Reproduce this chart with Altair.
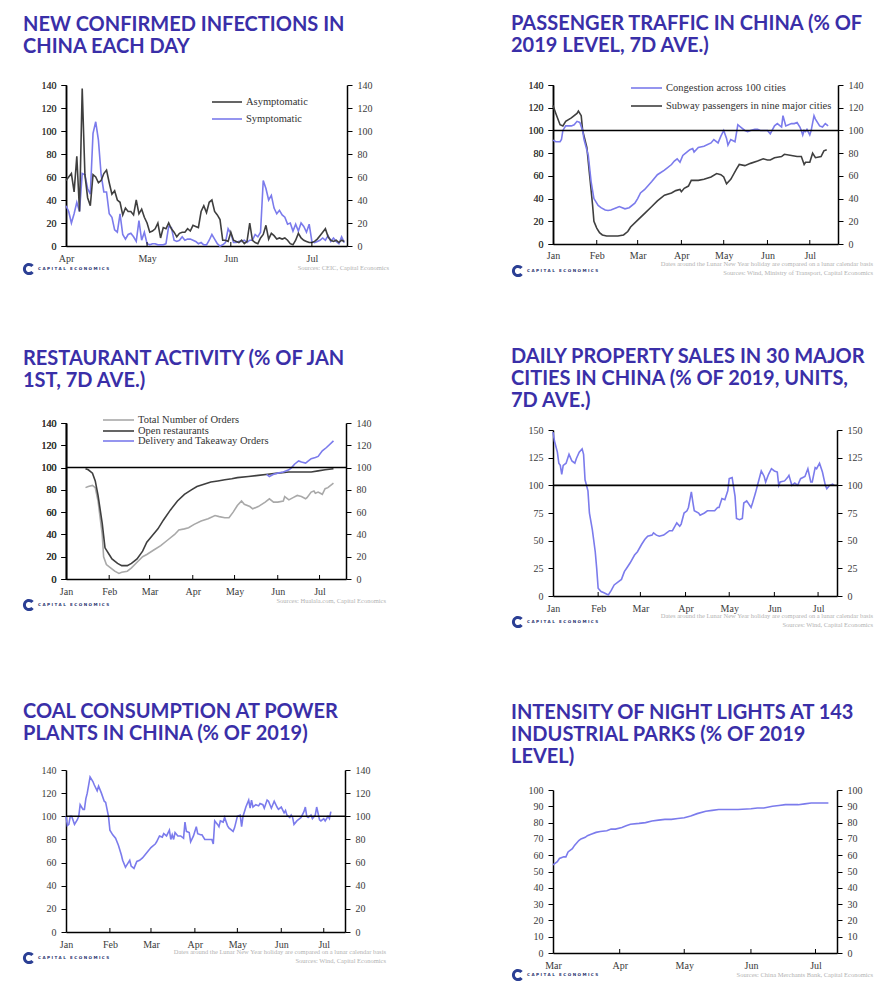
import altair as alt
import pandas as pd

YEAR = 2020
AXF = "Liberation Serif"
AXC = "#3a3a3a"
BLUE = "#7b7bec"
DARK = "#3f3f3f"
LGRAY = "#a9a9a9"
TITLE_C = "#3a2fa8"
LOGO_C = "#2b3f94"
SRC_C = "#b2b2b2"

# ---------------- Panel 1: new confirmed infections (daily from 1 Apr) ----------------
P1_TITLE = ["NEW CONFIRMED INFECTIONS IN", "CHINA EACH DAY"]
P1_NAMES = ["Asymptomatic", "Symptomatic"]
P1_ASYM = [57, 60, 63, 47, 78, 30, 137, 62, 42, 35,
           62, 60, 55, 57, 63, 66, 55, 45, 48, 40,
           38, 27, 33, 30, 30, 27, 40, 28, 32, 25,
           20, 12, 13, 15, 20, 7, 16, 15, 20, 15,
           12, 8, 11, 12, 12, 15, 13, 18, 17, 16,
           30, 35, 29, 38, 40, 30, 27, 23, 5, 5,
           4, 12, 5, 4, 3, 5, 2, 4, 20, 5,
           3, 2, 7, 10, 18, 6, 11, 9, 6, 7,
           6, 7, 5, 2, 1, 5, 11, 7, 5, 4,
           3, 3, 4, 6, 9, 12, 15, 8, 5, 4,
           5, 3, 5, 4]
P1_SYM = [35, 30, 20, 28, 38, 30, 63, 62, 50, 45,
          98, 108, 92, 62, 47, 47, 28, 25, 14, 12,
          28, 10, 6, 10, 11, 8, 4, 22, 5, 12,
          2, 1, 2, 2, 1, 1, 1, 2, 17, 16,
          5, 4, 5, 8, 5, 6, 6, 5, 4, 2,
          3, 1, 1, 5, 10, 6, 2, 0, 1, 3,
          15, 11, 3, 3, 4, 4, 5, 3, 5, 5,
          10, 8, 12, 57, 50, 40, 44, 33, 28, 31,
          27, 25, 19, 20, 13, 19, 13, 20, 17, 12,
          19, 4, 3, 4, 5, 7, 5, 9, 4, 7,
          4, 2, 8, 3]
P1_DAYS = list(range(len(P1_ASYM)))

# ---------------- Panel 2: passenger traffic (days from 1 Jan) ----------------
P2_TITLE = ["PASSENGER TRAFFIC IN CHINA (% OF", "2019 LEVEL, 7D AVE.)"]
P2_NAMES = ["Congestion across 100 cities", "Subway passengers in nine major cities"]
P2_CONG_DAYS = [0, 2, 5, 6, 7, 9, 13, 15, 17, 19, 21, 22, 25, 27, 29, 32, 34, 37, 39, 41,
                45, 47, 51, 54, 58, 60, 62, 65, 70, 74, 79, 84, 86, 88, 90, 92, 94, 97, 99, 100,
                103, 107, 112, 114, 117, 119, 121, 123, 124, 126, 129, 131, 133, 136, 138, 140, 143, 145, 147, 150,
                152, 154, 157, 159, 162, 163, 165, 169, 171, 173, 175, 176, 177, 178, 179, 180, 182, 183, 185, 186,
                189, 191, 193, 195]
P2_CONG = [91.5, 90, 90, 92, 100, 104, 104, 105, 108, 107, 100, 92, 78, 55, 40, 34, 32, 30, 29.5, 30,
           32, 33, 31, 32, 36, 40, 45, 48, 55, 61, 65, 70, 73, 75, 72, 78, 80, 83, 84, 81,
           85, 86, 89, 92, 89, 95, 100, 93, 87, 92, 90, 105, 103, 100, 99, 100, 101, 101, 100, 100,
           100, 97, 104, 106, 103, 113, 104, 106, 106, 107, 103, 100, 96, 100, 99, 101, 96, 100, 113, 110,
           104, 103, 106, 104]
P2_SUB_DAYS = [0, 2, 5, 7, 9, 13, 17, 18, 20, 21, 24, 26, 28, 29, 31, 33, 35, 38, 41, 46,
               50, 53, 55, 60, 65, 70, 74, 79, 84, 87, 90, 91, 93, 96, 98, 103, 107, 112, 116, 119,
               121, 123, 126, 130, 132, 136, 140, 145, 149, 152, 154, 157, 162, 164, 169, 173, 176, 178, 179, 182,
               184, 186, 190, 192, 194]
P2_SUB = [122, 115, 105, 104, 108, 111, 115, 117, 113, 100, 85, 60, 35, 20, 14, 10, 8, 7, 7, 7,
          8, 11, 15, 21, 27, 33, 38, 43, 45, 47, 48, 46, 49, 51, 56, 56, 57, 59, 62, 61,
          59, 53, 57, 66, 70, 69, 71, 73, 75, 74, 74, 76, 77, 79, 78, 77, 77, 70, 72, 72,
          80, 76, 77, 82, 83]

# ---------------- Panel 3: restaurant activity ----------------
P3_TITLE = ["RESTAURANT ACTIVITY (% OF JAN", "1ST, 7D AVE.)"]
P3_NAMES = ["Total Number of Orders", "Open restaurants", "Delivery and Takeaway Orders"]
P3_TOT_DAYS = [14, 16, 19, 21, 23, 26, 27, 29, 32, 35, 38, 40, 44, 47, 51, 55, 58, 63, 68, 73,
               78, 81, 85, 88, 92, 97, 102, 107, 110, 114, 117, 120, 123, 126, 128, 132, 134, 138, 143, 146,
               149, 152, 156, 157, 160, 163, 166, 169, 172, 173, 176, 178, 179, 181, 184, 186, 188, 192]
P3_TOT = [82, 83, 84, 82, 70, 40, 20, 13, 10, 7, 5, 6, 7, 10, 15, 20, 22, 26, 30, 35,
          40, 44, 45, 46, 49, 52, 54, 57, 56, 55, 55, 60, 66, 70, 67, 65, 63, 65, 69, 72,
          69, 69, 70, 74, 71, 73, 75, 74, 72, 73, 78, 79, 77, 78, 76, 81, 82, 86]
P3_OPEN_DAYS = [14, 16, 19, 21, 23, 26, 28, 31, 33, 37, 40, 44, 47, 51, 55, 58, 62, 66, 70, 75,
                80, 85, 90, 94, 99, 104, 109, 114, 119, 123, 131, 138, 145, 152, 160, 169, 176, 181, 186, 192]
P3_OPEN = [99, 98, 95, 88, 75, 50, 28, 22, 18, 14, 12, 12, 14, 18, 25, 33, 39, 45, 53, 62,
           70, 76, 80, 83, 85, 87, 88, 89, 90, 91, 92, 93, 94, 95, 96, 96, 96, 97, 98, 99]
P3_DEL_DAYS = [144, 146, 149, 152, 156, 160, 162, 164, 167, 169, 172, 174, 176, 179, 181, 184, 187, 192]
P3_DEL = [94, 92, 94, 95, 96, 98, 100, 103, 106, 105, 104, 106, 108, 109, 110, 115, 118, 124]

# ---------------- Panel 4: property sales ----------------
P4_TITLE = ["DAILY PROPERTY SALES IN 30 MAJOR", "CITIES IN CHINA (% OF 2019, UNITS,", "7D AVE.)"]
P4_NAMES = ["Property sales"]
P4_DAYS = [0, 1, 3, 4, 5, 6, 7, 9, 11, 13, 15, 16, 18, 20, 21, 22, 24, 25, 27, 29,
           30, 31, 33, 35, 38, 40, 42, 45, 47, 49, 51, 53, 56, 58, 61, 63, 65, 68, 69, 71,
           73, 76, 78, 80, 82, 85, 87, 88, 90, 92, 93, 95, 96, 97, 100, 101, 104, 106, 109, 111,
           113, 114, 116, 118, 120, 121, 123, 125, 126, 128, 130, 131, 133, 136, 137, 139, 141, 143, 145, 146,
           148, 150, 152, 154, 155, 156, 159, 161, 162, 164, 166, 168, 170, 173, 175, 177, 178, 180, 181, 183,
           185, 187, 188, 190, 192, 193]
P4_VALS = [148, 140, 130, 120, 118, 110, 118, 120, 128, 122, 120, 124, 130, 133, 128, 105, 95, 75, 60, 40,
           25, 7, 4, 3, 1, 5, 10, 13, 15, 22, 26, 30, 37, 40, 47, 51, 54, 55, 57, 55,
           54, 55, 57, 59, 59, 66, 63, 65, 75, 77, 80, 94, 85, 77, 75, 73, 75, 77, 77, 77,
           80, 80, 88, 87, 95, 106, 107, 90, 70, 69, 70, 84, 86, 80, 84, 93, 103, 113, 108, 103,
           110, 115, 113, 112, 100, 103, 104, 107, 109, 100, 102, 100, 106, 108, 115, 103, 103, 116, 115, 120,
           112, 100, 97, 100, 101, 100]

# ---------------- Panel 5: coal consumption ----------------
P5_TITLE = ["COAL CONSUMPTION AT POWER", "PLANTS IN CHINA (% OF 2019)"]
P5_NAMES = ["Coal consumption"]
P5_DAYS = [0, 1, 2, 3, 4, 6, 8, 9, 10, 12, 13, 14, 15, 17, 19, 20, 22, 23, 25, 27,
           28, 30, 31, 33, 35, 37, 39, 40, 42, 43, 45, 46, 48, 50, 52, 54, 56, 58, 60, 61,
           63, 64, 66, 68, 69, 71, 73, 74, 75, 76, 77, 79, 81, 83, 84, 85, 87, 88, 90, 92,
           93, 95, 96, 98, 101, 103, 104, 105, 107, 108, 109, 111, 112, 114, 115, 118, 119, 120, 121, 123,
           124, 125, 126, 127, 129, 130, 131, 132, 134, 136, 137, 139, 140, 142, 143, 144, 145, 147, 149, 150,
           152, 154, 155, 156, 158, 159, 160, 161, 163, 165, 166, 168, 169, 170, 171, 173, 174, 176, 177, 179,
           180, 182, 183, 185, 186, 187]
P5_VALS = [100, 92, 93, 100, 100, 93, 97, 100, 110, 106, 106, 115, 120, 134, 130, 127, 122, 126, 120, 113,
           112, 100, 88, 84, 81, 75, 67, 62, 56, 58, 62, 57, 55, 61, 62, 64, 67, 70, 73, 74,
           76, 78, 83, 82, 85, 83, 88, 80, 84, 80, 86, 83, 83, 81, 95, 87, 86, 78, 83, 91,
           85, 84, 84, 80, 80, 80, 76, 96, 93, 91, 96, 95, 99, 92, 90, 87, 90, 95, 100, 101,
           91, 100, 104, 108, 114, 107, 114, 108, 110, 109, 111, 110, 107, 114, 113, 110, 107, 113, 108, 106,
           108, 103, 105, 101, 99, 101, 99, 93, 96, 98, 99, 104, 108, 100, 99, 101, 98, 101, 108, 97,
           96, 98, 96, 100, 98, 104]

# ---------------- Panel 6: night lights (days from 1 Mar) ----------------
P6_TITLE = ["INTENSITY OF NIGHT LIGHTS AT 143", "INDUSTRIAL PARKS (% OF 2019", "LEVEL)"]
P6_NAMES = ["Night lights"]
P6_DAYS = [0, 2, 3, 5, 6, 7, 9, 10, 12, 13, 15, 16, 18, 20, 22, 25, 27, 29, 32, 34,
           36, 40, 43, 46, 49, 52, 55, 58, 61, 64, 67, 71, 74, 77, 80, 86, 92, 95, 98, 102,
           105, 108, 111, 114, 117, 120, 124, 128]
P6_VALS = [54, 56, 58, 59, 59, 62, 64, 66, 69, 70, 71, 72, 73, 74, 74.5, 75, 76, 76, 77, 78,
           79, 79.5, 80, 81, 81.5, 82, 82, 82.5, 83, 84, 85.5, 87, 87.5, 88, 88, 88, 88.5, 89, 89, 90,
           90.5, 91, 91, 91, 91.5, 92, 92, 92]

SRC1 = "Sources: CEIC, Capital Economics"
SRC2 = "Dates around the Lunar New Year holiday are compared on a lunar calendar basis\nSources: Wind, Ministry of Transport, Capital Economics"
SRC3 = "Sources: Hualala.com, Capital Economics"
SRC4 = "Dates around the Lunar New Year holiday are compared on a lunar calendar basis\nSources: Wind, Capital Economics"
SRC5 = "Dates around the Lunar New Year holiday are compared on a lunar calendar basis\nSources: Wind, Capital Economics"
SRC6 = "Sources: China Merchants Bank, Capital Economics"

LOGO_TEXT = "C A P I T A L\u00a0\u00a0\u00a0E C O N O M I C S"
C_PATH = "M 0.77,-0.64 A 1,1 0 1,0 0.77,0.64 L 0.38,0.32 A 0.5,0.5 0 1,1 0.38,-0.32 Z"


def dt(m, d):
    return alt.DateTime(year=YEAR, month=m, date=d)


def series_df(start, days, vals):
    return pd.DataFrame({
        "date": pd.Timestamp(start) + pd.to_timedelta(days, unit="D"),
        "value": vals,
    })


def yaxis(orient, vals):
    return alt.Axis(title=None, orient=orient, values=vals, grid=False, ticks=True, tickSize=5,
                    tickColor="black", tickWidth=1, domainColor="black", domainWidth=1.5,
                    labelFont=AXF, labelFontSize=10, labelColor=AXC, labelPadding=5)


def panel(p):
    W, H = p["w"], p["h"]
    xs = alt.Scale(domain=[dt(*p["x0"]), dt(*p["x1"])])
    yvals = list(range(0, p["ymax"] + 1, p["ystep"]))
    xaxis = alt.Axis(title=None, values=[dt(m, 1) for m in p["months"]], format="%b",
                     labelFlush=False, labelOverlap=False, ticks=False, tickSize=0, grid=False,
                     domainColor="black", domainWidth=1.5, labelFont=AXF, labelFontSize=10,
                     labelColor=AXC, labelPadding=p.get("lp", 7))
    layers = []
    for name, days, vals, col in p["series"]:
        layers.append(alt.Chart(series_df(p["start"], days, vals)).mark_line(
            strokeWidth=1.6, color=col).encode(
            x=alt.X("date:T", scale=xs, axis=xaxis),
            y=alt.Y("value:Q", scale=alt.Scale(domain=[0, p["ymax"]], nice=False),
                    axis=yaxis("left", yvals)),
        ))
    tick_df = pd.DataFrame({"date": [pd.Timestamp(YEAR, m, 1) for m in p["months"][1:]]})
    layers.append(alt.Chart(tick_df).mark_rule(color="black", strokeWidth=1).encode(
        x=alt.X("date:T", scale=xs, axis=xaxis), y=alt.value(H - 4), y2=alt.value(H)))
    rdf = pd.DataFrame({"v": [100 if p["rule"] else 0]})
    rule = alt.Chart(rdf).mark_rule(color="black", strokeWidth=1.6,
                                    opacity=1 if p["rule"] else 0).encode(
        y=alt.Y("v:Q", scale=alt.Scale(domain=[0, p["ymax"]], nice=False), axis=yaxis("right", yvals)))
    layers.append(rule)
    if p.get("legend"):
        lg = p["legend"]
        for (name, col), ly in zip(lg["items"], lg["ys"]):
            ldf = pd.DataFrame({"name": [name]})
            layers.append(alt.Chart(ldf).mark_rule(color=col, strokeWidth=1.6).encode(
                x=alt.value(lg["x0"]), x2=alt.value(lg["x1"]), y=alt.value(ly)))
            layers.append(alt.Chart(ldf).mark_text(align="left", baseline="middle", font=AXF,
                                                   fontSize=lg["fs"], color="#333333").encode(
                x=alt.value(lg["tx"]), y=alt.value(ly), text="name:N"))
    lx, ly = p["logo"]
    logo_df = pd.DataFrame({"t": [LOGO_TEXT]})
    layers.append(alt.Chart(logo_df).mark_point(shape=C_PATH, filled=True, size=150, opacity=1,
                                                color=LOGO_C, strokeWidth=0).encode(
        x=alt.value(lx), y=alt.value(H + ly)))
    layers.append(alt.Chart(logo_df).mark_text(align="left", baseline="middle", font="DejaVu Sans",
                                               fontSize=4.1, fontWeight="bold", color="#2b3570").encode(
        x=alt.value(lx + 9), y=alt.value(H + ly), text="t:N"))
    stext, sx, sy = p["source"]
    src_df = pd.DataFrame({"s": [stext]})
    layers.append(alt.Chart(src_df).mark_text(align="right", baseline="top", font=AXF, fontSize=6.5,
                                              color=SRC_C, lineBreak="\n", lineHeight=8.5).encode(
        x=alt.value(W + sx), y=alt.value(H + sy), text="s:N"))
    # invisible spacer that fixes the panel's lower bound
    layers.append(alt.Chart(src_df).mark_rule(opacity=0, strokeWidth=1).encode(
        x=alt.value(0), y=alt.value(H), y2=alt.value(H + p["spacer"])))
    return alt.layer(*layers).resolve_scale(y="independent").properties(
        width=W, height=H,
        title=alt.TitleParams(text=p["title"], anchor="start", frame="group", dx=p["tdx"],
                              font="Lato", fontSize=20, fontWeight="bold", color=TITLE_C,
                              lineHeight=22, offset=p["toff"]),
    )


P1 = dict(title=P1_TITLE, tdx=-43, toff=23, w=281, h=161, start="2020-04-01", x0=(4, 1), x1=(7, 14),
          months=[4, 5, 6, 7], ymax=140, ystep=20, rule=False, spacer=43,
          series=[(P1_NAMES[1], P1_DAYS, P1_SYM, BLUE), (P1_NAMES[0], P1_DAYS, P1_ASYM, DARK)],
          legend=dict(items=[(P1_NAMES[0], DARK), (P1_NAMES[1], BLUE)], ys=[17, 34], x0=146, x1=176, tx=180, fs=10.5),
          logo=(-37, 23), source=(SRC1, 42, 19))
P2 = dict(title=P2_TITLE, tdx=-42, toff=24, w=285, h=159, start="2020-01-01", x0=(1, 1), x1=(7, 21),
          months=[1, 2, 3, 4, 5, 6, 7], ymax=140, ystep=20, rule=True, spacer=42.5, lp=6,
          series=[(P2_NAMES[1], P2_SUB_DAYS, P2_SUB, DARK), (P2_NAMES[0], P2_CONG_DAYS, P2_CONG, BLUE)],
          legend=dict(items=[(P2_NAMES[0], BLUE), (P2_NAMES[1], DARK)], ys=[3, 21], x0=78, x1=109, tx=113, fs=10.5),
          logo=(-35, 27), source=(SRC2, 35, 17))
P3 = dict(title=P3_TITLE, tdx=-43, toff=24, w=280, h=156, start="2020-01-01", x0=(1, 1), x1=(7, 20),
          months=[1, 2, 3, 4, 5, 6, 7], ymax=140, ystep=20, rule=True, spacer=63,
          series=[(P3_NAMES[0], P3_TOT_DAYS, P3_TOT, LGRAY), (P3_NAMES[1], P3_OPEN_DAYS, P3_OPEN, DARK),
                  (P3_NAMES[2], P3_DEL_DAYS, P3_DEL, BLUE)],
          legend=dict(items=[(P3_NAMES[0], LGRAY), (P3_NAMES[1], DARK), (P3_NAMES[2], BLUE)], ys=[-3, 8, 18],
                      x0=37, x1=68, tx=72, fs=10.5),
          logo=(-37, 26), source=(SRC3, 40, 19))
P4 = dict(title=P4_TITLE, tdx=-42, toff=14, w=284, h=166, start="2020-01-01", x0=(1, 1), x1=(7, 14),
          months=[1, 2, 3, 4, 5, 6, 7], ymax=150, ystep=25, rule=True, spacer=46,
          series=[(P4_NAMES[0], P4_DAYS, P4_VALS, BLUE)],
          logo=(-35, 26), source=(SRC4, 36, 17))
P5 = dict(title=P5_TITLE, tdx=-43, toff=21, w=279, h=162, start="2020-01-01", x0=(1, 1), x1=(7, 16),
          months=[1, 2, 3, 4, 5, 6, 7], ymax=140, ystep=20, rule=True, spacer=40,
          series=[(P5_NAMES[0], P5_DAYS, P5_VALS, BLUE)],
          logo=(-37, 26), source=(SRC5, 41, 17))
P6 = dict(title=P6_TITLE, tdx=-42, toff=18.5, w=284, h=163, start="2020-03-01", x0=(3, 1), x1=(7, 11),
          months=[3, 4, 5, 6, 7], ymax=100, ystep=10, rule=False, spacer=38,
          series=[(P6_NAMES[0], P6_DAYS, P6_VALS, BLUE)],
          logo=(-35, 22), source=(SRC6, 36, 19))

left = alt.vconcat(panel(P1), panel(P3), panel(P5), spacing=60)
right = alt.vconcat(panel(P2), panel(P4), panel(P6), spacing=60)

chart = alt.hconcat(left, right, spacing=122).properties(
    padding={"left": 14, "top": 6, "right": 5, "bottom": 3}
).configure_view(stroke=None)

chart.save("out.html", embed_options={"renderer": "svg", "actions": False})
